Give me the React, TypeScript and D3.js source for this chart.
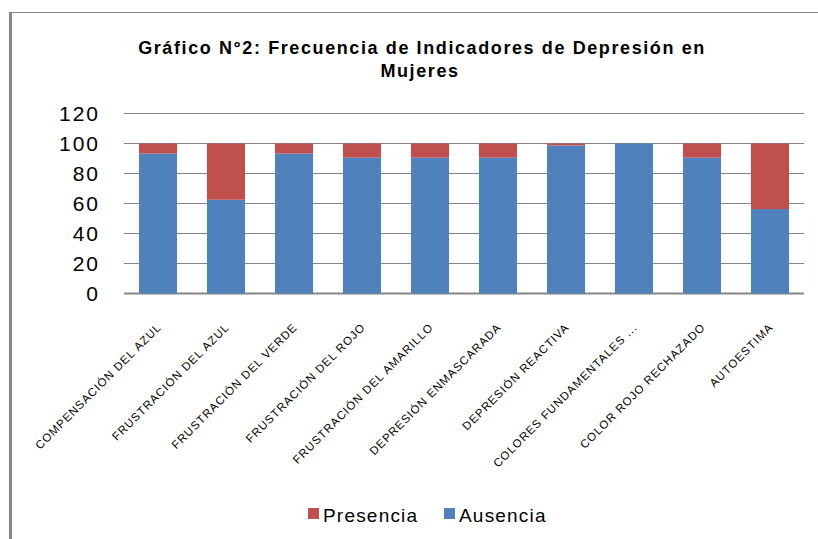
import { useEffect, useRef } from "react";
import * as d3 from "d3";

// categories and values (percent of women)
const categories = [
  "COMPENSACIÓN DEL AZUL",
  "FRUSTRACIÓN DEL AZUL",
  "FRUSTRACIÓN DEL VERDE",
  "FRUSTRACIÓN DEL ROJO",
  "FRUSTRACIÓN DEL AMARILLO",
  "DEPRESIÓN ENMASCARADA",
  "DEPRESIÓN REACTIVA",
  "COLORES FUNDAMENTALES ...",
  "COLOR ROJO RECHAZADO",
  "AUTOESTIMA",
];
const ausencia = [93.3, 62.5, 93.3, 90.6, 90.6, 90.6, 98.7, 100, 90.6, 56.3];
const presencia = [6.7, 37.5, 6.7, 9.4, 9.4, 9.4, 1.3, 0, 9.4, 43.7];
const yTicks = [0, 20, 40, 60, 80, 100, 120];
const seriesNames = ["Ausencia", "Presencia"];
const seriesColors = ["#4F81BD", "#C0504D"];
const legendOrder = ["Presencia", "Ausencia"];

const FONT = "'Liberation Sans', Arial, sans-serif";

export default function App() {
  const svgRef = useRef<SVGSVGElement | null>(null);

  useEffect(() => {
    if (!svgRef.current) return;
    const width = 818;
    const height = 539;
    const margin = { top: 113.5, right: 14, bottom: 245.5, left: 124 };

    const svg = d3.select(svgRef.current);
    svg.selectAll("*").remove();

    svg.append("rect").attr("width", width).attr("height", height).attr("fill", "#fff");

    // frame: thick left edge, thin top edge
    svg.append("line")
      .attr("x1", 10.5).attr("x2", 10.5).attr("y1", 12).attr("y2", height)
      .attr("stroke", "#868686").attr("stroke-width", 3);
    svg.append("line")
      .attr("x1", 9).attr("x2", width).attr("y1", 12.5).attr("y2", 12.5)
      .attr("stroke", "#868686").attr("stroke-width", 1);

    const x = d3.scaleBand<string>()
      .domain(categories)
      .range([margin.left, width - margin.right])
      .paddingInner(0.44)
      .paddingOuter(0.22);

    const y = d3.scaleLinear()
      .domain([0, 120])
      .range([height - margin.bottom, margin.top]);

    // gridlines
    svg.append("g")
      .selectAll("line")
      .data(yTicks)
      .join("line")
      .attr("x1", margin.left)
      .attr("x2", width - margin.right)
      .attr("y1", (d) => y(d))
      .attr("y2", (d) => y(d))
      .attr("stroke", "#868686")
      .attr("stroke-width", (d) => (d === 0 ? 2 : 1));

    // y labels
    svg.append("g")
      .selectAll("text")
      .data(yTicks)
      .join("text")
      .attr("x", 100)
      .attr("y", (d) => y(d))
      .attr("dy", "0.36em")
      .attr("text-anchor", "end")
      .attr("font-family", FONT)
      .attr("font-size", 21)
      .attr("letter-spacing", 2)
      .attr("fill", "#000")
      .text((d) => d);

    // stacked bars
    const rows = categories.map((c, i) => ({ cat: c, Ausencia: ausencia[i], Presencia: presencia[i] }));
    const stacked = d3.stack<any>().keys(seriesNames)(rows);

    svg.append("g")
      .selectAll("g")
      .data(stacked)
      .join("g")
      .attr("fill", (_, i) => seriesColors[i])
      .selectAll("rect")
      .data((s) => s)
      .join("rect")
      .attr("x", (d: any) => x(d.data.cat)!)
      .attr("width", x.bandwidth())
      .attr("y", (d) => y(d[1]))
      .attr("height", (d) => y(d[0]) - y(d[1]));

    // category labels, rotated
    svg.append("g")
      .selectAll("text")
      .data(categories)
      .join("text")
      .attr("transform", (d) => `translate(${x(d)! + x.bandwidth() / 2 + 4},328) rotate(-45)`)
      .attr("text-anchor", "end")
      .attr("font-family", FONT)
      .attr("font-size", 11.5)
      .attr("letter-spacing", 1)
      .attr("fill", "#000")
      .text((d) => d);

    // title
    const title = svg.append("text")
      .attr("text-anchor", "middle")
      .attr("font-family", FONT)
      .attr("font-size", 18)
      .attr("font-weight", "bold")
      .attr("letter-spacing", 1.6)
      .attr("fill", "#000");
    title.append("tspan").attr("x", 422).attr("y", 53.5)
      .text("Gráfico N°2: Frecuencia de Indicadores de Depresión en");
    title.append("tspan").attr("x", 420).attr("y", 77).text("Mujeres");

    // legend
    const legendX = [308, 444];
    const legend = svg.append("g")
      .selectAll("g")
      .data(legendOrder)
      .join("g")
      .attr("transform", (_, i) => `translate(${legendX[i]},508)`);
    legend.append("rect")
      .attr("width", 11).attr("height", 11)
      .attr("fill", (d) => seriesColors[seriesNames.indexOf(d)]);
    legend.append("text")
      .attr("x", 15).attr("y", 13.5)
      .attr("font-family", FONT)
      .attr("font-size", 19)
      .attr("letter-spacing", 1.2)
      .attr("fill", "#000")
      .text((d) => d);
  }, []);

  return (
    <svg
      ref={svgRef}
      width={818}
      height={539}
      style={{ position: "absolute", left: 0, top: 0 }}
    />
  );
}
